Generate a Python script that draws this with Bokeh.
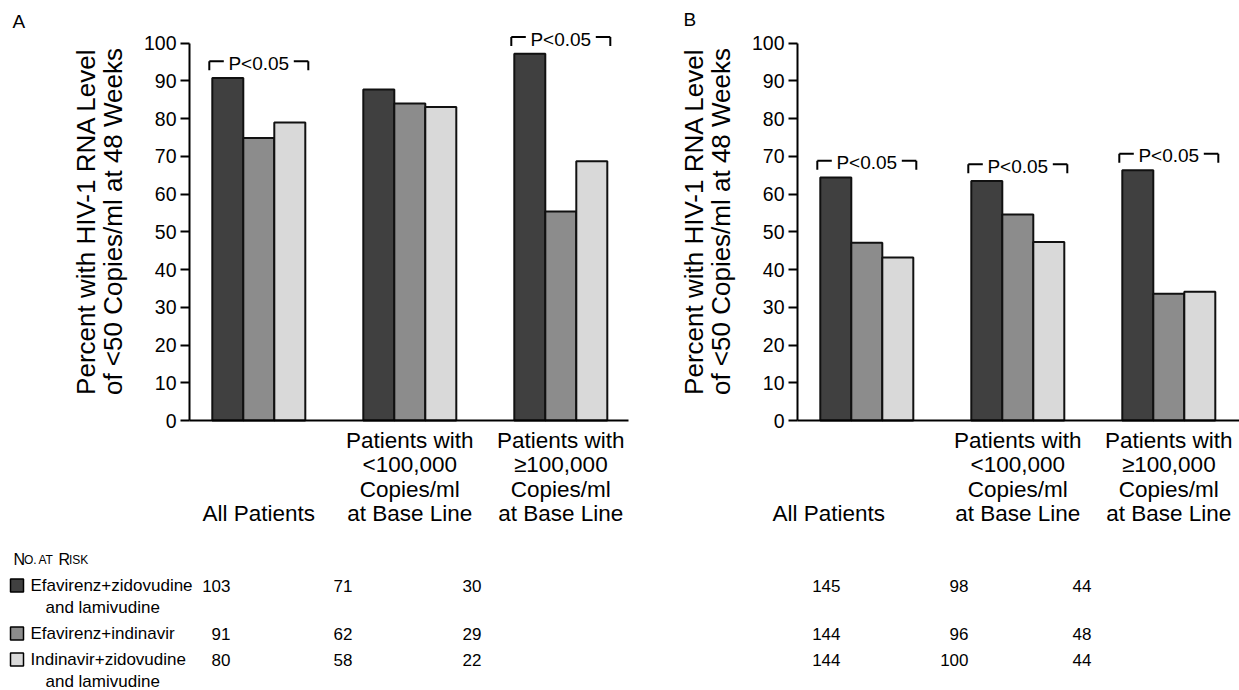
import math
from bokeh.plotting import figure
from bokeh.models import Range1d, LinearAxis, FixedTicker
from bokeh.core.properties import value
from bokeh.embed import file_html
from bokeh.resources import INLINE

# ---------------- data ----------------
groups = ["All Patients",
          "Patients with <100,000 Copies/ml at Base Line",
          "Patients with \u2265100,000 Copies/ml at Base Line"]
group_lines = [["All Patients"],
               ["Patients with", "<100,000", "Copies/ml", "at Base Line"],
               ["Patients with", "\u2265100,000", "Copies/ml", "at Base Line"]]
series = ["Efavirenz+zidovudine and lamivudine",
          "Efavirenz+indinavir",
          "Indinavir+zidovudine and lamivudine"]
series_lines = [["Efavirenz+zidovudine", "and lamivudine"],
                ["Efavirenz+indinavir"],
                ["Indinavir+zidovudine", "and lamivudine"]]
colors = ["#404040", "#8c8c8c", "#d9d9d9"]

# Panel A (percent)
a_efv_zdv = [90.8, 87.7, 97.2]
a_efv_idv = [74.9, 84.0, 55.4]
a_idv_zdv = [79.0, 83.1, 68.7]
# Panel B (percent)
b_efv_zdv = [64.4, 63.5, 66.3]
b_efv_idv = [47.1, 54.6, 33.6]
b_idv_zdv = [43.2, 47.3, 34.1]

a_signif = [True, False, True]
b_signif = [True, True, True]
p_text = "P<0.05"

# No. at risk
a_risk = [[103, 71, 30], [91, 62, 29], [80, 58, 22]]
b_risk = [[145, 98, 44], [144, 96, 48], [144, 100, 44]]

y_ticks = list(range(0, 101, 10))
y_label = ["Percent with HIV-1 RNA Level", "of <50 Copies/ml at 48 Weeks"]

# ---------------- layout helpers (reference pixel -> data) ----------------
GX0 = 258.3     # pixel centre of first group, panel A
GSTEP = 151.0   # pixels per group
Y0 = 420.0      # pixel of 0 %
PPU = 3.773     # pixels per percent
PANEL_SHIFT = 608.0

def sx(px):
    return (px - GX0) / GSTEP

def sy(py):
    return (Y0 - py) / PPU

BW = 31.0 / GSTEP
FONT = value("Liberation Sans")

W, H = 1239, 690
p = figure(width=W, height=H, output_backend="svg", toolbar_location=None,
           x_range=Range1d(sx(0), sx(W)), y_range=Range1d(sy(H), sy(0)),
           x_axis_type=None, y_axis_type=None, min_border=0)
p.outline_line_color = None
p.background_fill_color = "white"
p.border_fill_color = "white"

panels = [
    (0.0, [a_efv_zdv, a_efv_idv, a_idv_zdv], a_signif, 189, 628, [0, 0, 0]),
    (PANEL_SHIFT, [b_efv_zdv, b_efv_idv, b_idv_zdv], b_signif, 797, 1239, [-38, 0, 0]),
]

for shift, vals, signif, ax_px, ax_end_px, lab_dx in panels:
    off = shift / GSTEP
    gx = [i + off for i in range(len(groups))]
    # bars
    for s, (v, c) in enumerate(zip(vals, colors)):
        p.vbar(x=[g + (s - 1) * BW for g in gx], top=v, bottom=0, width=BW,
               fill_color=c, line_color="#111111", line_width=2)
    # y axis
    yax = LinearAxis(fixed_location=sx(ax_px), bounds=(0, 100),
                     ticker=FixedTicker(ticks=y_ticks))
    yax.major_tick_out = 9
    yax.major_tick_in = 0
    yax.minor_tick_out = 0
    yax.minor_tick_in = 0
    yax.axis_line_width = 2
    yax.major_tick_line_width = 2
    yax.major_label_text_font = "Liberation Sans"
    yax.major_label_text_font_size = "19.5px"
    yax.major_label_text_color = "black"
    yax.major_label_standoff = 4
    p.add_layout(yax, "left")
    # x axis line
    xax = LinearAxis(fixed_location=0, bounds=(sx(ax_px), sx(ax_end_px)),
                     ticker=FixedTicker(ticks=[]))
    xax.axis_line_width = 2
    xax.major_tick_out = 0
    xax.major_tick_in = 0
    xax.minor_tick_out = 0
    xax.minor_tick_in = 0
    xax.major_label_text_font_size = "0px"
    p.add_layout(xax, "below")
    # y axis label
    for k, line in enumerate(y_label):
        p.text(x=[sx(ax_px - 104 + 27 * k)], y=[sy(221)], text=[line],
               angle=math.pi / 2, text_align="center", text_baseline="middle",
               text_font=FONT, text_font_size="26px", text_color="black")
    # category labels (bottom aligned)
    for g, lines, dx in zip(gx, group_lines, lab_dx):
        n = len(lines)
        for k, line in enumerate(lines):
            ypx = 513 - 24.3 * (n - 1 - k)
            p.text(x=[g + dx / GSTEP], y=[sy(ypx)], text=[line], text_align="center",
                   text_baseline="middle", text_font=FONT,
                   text_font_size="22.5px", text_color="black")
    # significance brackets
    for g, sig, *bars in zip(gx, signif, *vals):
        if not sig:
            continue
        top = max(bars) + 16.7 / PPU
        half = 49.5 / GSTEP
        gap = 35.0 / GSTEP
        drop = 9.0 / PPU
        p.segment(x0=[g - half, g - half, g + gap, g + half],
                  y0=[top - drop, top, top, top],
                  x1=[g - half, g - gap, g + half, g + half],
                  y1=[top, top, top, top - drop],
                  line_color="black", line_width=2)
        p.text(x=[g], y=[top - 2.0 / PPU], text=[p_text], text_align="center",
               text_baseline="middle", text_font=FONT, text_font_size="19px",
               text_color="black")

# panel letters
p.text(x=[sx(12), sx(683)], y=[sy(21), sy(19)], text=["A", "B"],
       text_align="left", text_baseline="middle", text_font=FONT,
       text_font_size="19px", text_color="black")

# "No. at Risk" in small caps
pieces = [("N", 13, "16px"), ("O.", 23.5, "12px"), ("AT", 38, "12px"),
          ("R", 58, "16px"), ("ISK", 68.5, "12px")]
for t, xpx, fs in pieces:
    p.text(x=[sx(xpx)], y=[sy(559)], text=[t], text_align="left",
           text_baseline="alphabetic", text_font=FONT, text_font_size=fs,
           text_color="black")

# legend rows and counts
row_y = [585, 633, 659]
num_cols_px = [230, 352, 481, 840, 968, 1091]
for s, (lines, c) in enumerate(zip(series_lines, colors)):
    ypx = row_y[s]
    p.rect(x=[sx(16.5)], y=[sy(ypx)], width=13, height=13, width_units="screen",
           height_units="screen", fill_color=c, line_color="black", line_width=1.5)
    for k, line in enumerate(lines):
        p.text(x=[sx(30 if k == 0 else 45)], y=[sy(ypx + 21.5 * k)], text=[line],
               text_align="left", text_baseline="middle", text_font=FONT,
               text_font_size="17px", text_color="black")
    counts = a_risk[s] + b_risk[s]
    p.text(x=[sx(c_px) for c_px in num_cols_px], y=[sy(ypx)] * len(counts),
           text=[str(n) for n in counts], text_align="right",
           text_baseline="middle", text_font=FONT, text_font_size="17px",
           text_color="black")

open("out.html", "w").write(file_html(p, INLINE))
